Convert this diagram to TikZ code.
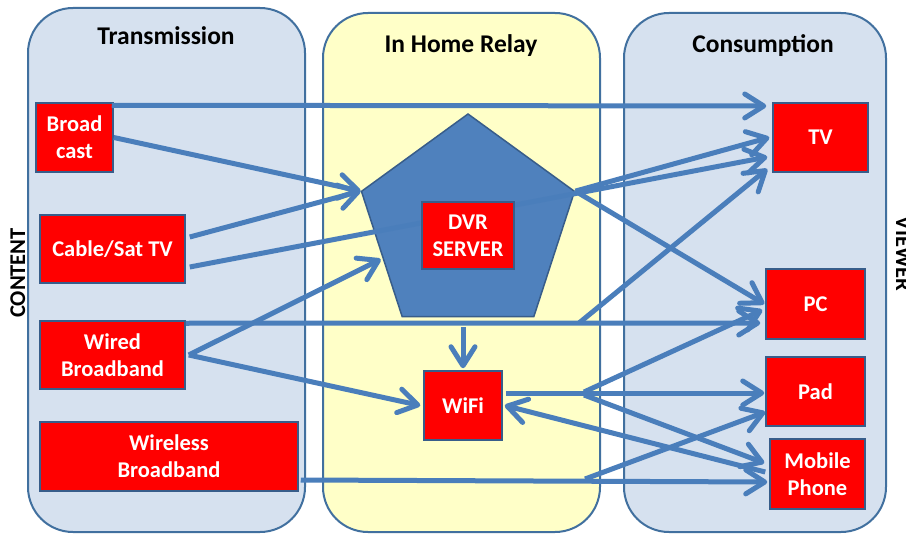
\documentclass[tikz,border=0pt]{standalone}
\usepackage{fontspec}
\setmainfont{Carlito}
\usetikzlibrary{arrows.meta,shapes.geometric,calc}
\definecolor{panelblue}{HTML}{D6E1EF}
\definecolor{panelyellow}{HTML}{FFFFC8}
\definecolor{frame}{HTML}{41709F}
\definecolor{flow}{HTML}{4A7EBB}
\definecolor{serverblue}{HTML}{4F81BD}
\definecolor{boxedge}{HTML}{385D8A}
\begin{document}
\begin{tikzpicture}[x=1pt,y=-1pt,
  panel/.style={draw=frame,line width=2pt,rounded corners=45pt,inner sep=0pt},
  heading/.style={font=\bfseries\fontsize{25.5}{30}\selectfont,anchor=base},
  side/.style={font=\bfseries\fontsize{22.5}{27}\selectfont,anchor=base},
  device/.style={draw=boxedge,line width=1.5pt,fill=red,text=white,
    font=\bfseries\fontsize{22.5}{27}\selectfont,align=center,inner sep=0pt},
  flowline/.style={draw=flow,line width=5pt,
    -{Straight Barb[round,length=19pt,width=24pt]}}]

\useasboundingbox (0,0) rectangle (906,535);
\fill[white] (0,0) rectangle (906,535);

% the three stages
\node[panel,fill=panelblue,minimum width=277pt,minimum height=524pt] (tx) at (166.5,270) {};
\node[panel,fill=panelyellow,minimum width=277pt,minimum height=519pt] (relay) at (461.5,272.5) {};
\node[panel,fill=panelblue,minimum width=262pt,minimum height=519pt] (cons) at (755,272.5) {};

\node[heading] (htx) at (166,45) {Transmission};
\node[heading] (hrelay) at (461,53) {In Home Relay};
\node[heading] (hcons) at (763,53) {Consumption};

\node[side,rotate=90] (content) at (25,273) {CONTENT};
\node[side,rotate=-90] (viewer) at (896,254) {VIEWER};

% sources
\node[device,minimum width=77pt,minimum height=69pt] (bc) at (74.5,137.5) {Broad\\cast};
\node[device,minimum width=145pt,minimum height=68pt] (cab) at (112.5,249) {Cable/Sat TV};
\node[device,minimum width=145pt,minimum height=68pt] (wb) at (112.5,355) {Wired\\Broadband};
\node[device,minimum width=258pt,minimum height=69pt] (wl) at (169,456.5) {Wireless\\Broadband};

% relay
\node[regular polygon,regular polygon sides=5,minimum size=224pt,inner sep=0pt,
      draw=boxedge,line width=1.5pt,fill=serverblue] (srv) at (468,226) {};
\node[device,minimum width=78pt,minimum height=69pt] (wifi) at (463,405.5) {WiFi};

% viewers
\node[device,minimum width=95pt,minimum height=69pt] (tv) at (820.5,137.5) {TV};
\node[device,minimum width=99pt,minimum height=70pt] (pc) at (815.5,304) {PC};
\node[device,minimum width=99pt,minimum height=69pt] (pad) at (815.5,391.5) {Pad};
\node[device,minimum width=95pt,minimum height=70pt] (mob) at (817.5,474) {Mobile\\Phone};

% branch points
\coordinate (wbout) at ([xshift=3pt]wb.east);
\coordinate (dvrout) at ([yshift=-10pt]srv.south);
\coordinate (j1) at (579,323);
\coordinate (j2) at (584,392);
\coordinate (j3) at (585,479);

% flows
\draw[flowline] ([xshift=-2pt,yshift=-3pt]bc.north east) -- ([xshift=-6pt,yshift=31.5pt]tv.west);
\draw[flowline] (bc.east) -- (srv.corner 2);
\draw[flowline] ([xshift=4pt,yshift=12pt]cab.east) -- (srv.corner 2);
\draw[flowline] ([xshift=4pt,yshift=-18pt]cab.east) -- ([xshift=-5pt,yshift=-19.5pt]tv.west);
\draw[flowline] (wbout) -- ([xshift=-2pt]$(srv.corner 2)!0.54!(srv.corner 3)$);
\draw[flowline] (wbout) -- ([xshift=-3pt]wifi.west);
\draw[flowline] ([yshift=-3pt]wb.north east) -- ([xshift=-5pt,yshift=-19pt]pc.west);
\draw[flowline] (wifi.north |- dvrout) -- ([yshift=2pt]wifi.north);
\draw[flowline] (srv.corner 5) -- ([xshift=-3pt]tv.west);
\draw[flowline] (srv.corner 5) -- ([xshift=-1pt]pc.west);
\draw[flowline] (j1) -- ([xshift=-5pt,yshift=-31.5pt]tv.west);
\draw[flowline] ([xshift=3pt,yshift=12.5pt]wifi.east) -- ([xshift=-1pt,yshift=-1.5pt]pad.west);
\draw[flowline] (j2) -- ([xshift=-3pt,yshift=-6pt]pc.west);
\draw[flowline] ([yshift=-3pt]j2) -- ([xshift=-5pt,yshift=11pt]mob.west);
\draw[flowline] ([xshift=-4pt,yshift=2pt]mob.west) -- ([xshift=2pt]wifi.east);
\draw[flowline] ([xshift=2pt,yshift=-23.5pt]wl.east) -- ([xshift=-2pt,yshift=-8pt]mob.west);
\draw[flowline] (j3) -- ([yshift=-20.5pt]pad.west);

% server label sits over the flows
\node[device,minimum width=92pt,minimum height=67pt] (dvr) at (468,235.5) {DVR\\SERVER};
\end{tikzpicture}
\end{document}
